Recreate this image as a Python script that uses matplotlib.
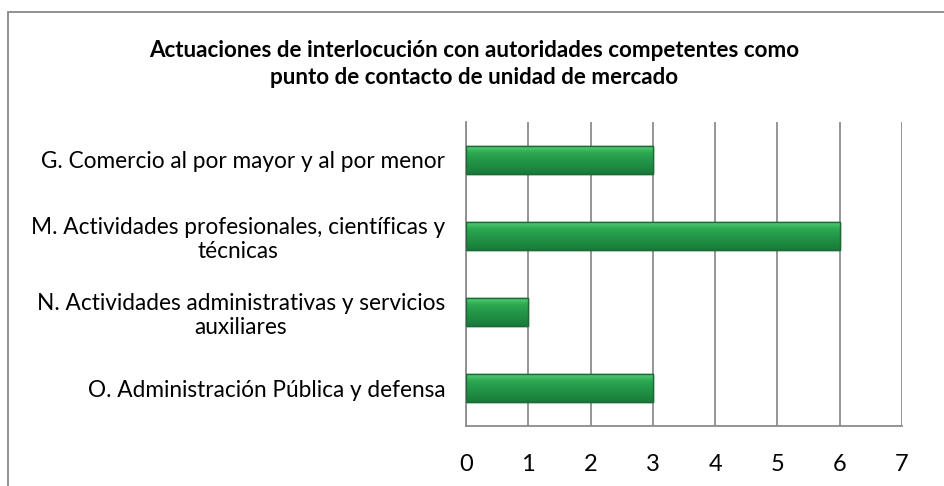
import numpy as np
import matplotlib.pyplot as plt
from matplotlib.patches import Rectangle
from matplotlib.colors import LinearSegmentedColormap

plt.rcParams['font.family'] = ['Lato', 'DejaVu Sans']

categories = [
    "G. Comercio al por mayor y al por menor",
    "M. Actividades profesionales, científicas y\ntécnicas",
    "N. Actividades administrativas y servicios\nauxiliares",
    "O. Administración Pública y defensa",
]
values = [3, 6, 1, 3]
xticks = [0, 1, 2, 3, 4, 5, 6, 7]
title = "Actuaciones de interlocución con autoridades competentes como\npunto de contacto de unidad de mercado"

fig = plt.figure(figsize=(9.45, 4.86), dpi=100)
ax = fig.add_axes([466 / 945, 1 - 426 / 486, 436 / 945, 304 / 486])

# outer chart border
fig.patches.append(Rectangle((8 / 945, -0.1), 1.2, 1 - 12 / 486 + 0.1,
                             transform=fig.transFigure, fill=False,
                             edgecolor='#888888', lw=1.3))

ypos = np.arange(len(categories))
bars = ax.barh(ypos, values, height=0.38, color='#27a049',
               edgecolor='#1d6a34', lw=1.0, zorder=3)

# vertical gradient on each bar to mimic the bevel look
cmap = LinearSegmentedColormap.from_list(
    'bev', ['#5ad47d', '#2eaa52', '#24984a', '#1f8a41', '#1a7a3a'])
grad = np.linspace(0, 1, 64).reshape(-1, 1)
for b in bars:
    x0, y0 = b.get_x(), b.get_y()
    w, h = b.get_width(), b.get_height()
    im = ax.imshow(grad, extent=[x0, x0 + w, y0 + h, y0], cmap=cmap,
                   aspect='auto', zorder=3.5, origin='upper')
    im.set_clip_path(b)
    ax.add_patch(Rectangle((x0, y0), w, h, fill=False,
                           edgecolor='#1d6a34', lw=1.0, zorder=4))

ax.set_xlim(0, 7)
ax.set_ylim(len(categories) - 0.5, -0.5)
ax.set_aspect('auto')
ax.set_xticks(xticks)
ax.set_xticklabels([str(t) for t in xticks], fontsize=17)
ax.set_yticks(ypos)
ax.set_yticklabels(categories, fontsize=16.3, multialignment='center',
                   linespacing=1.15)
ax.tick_params(axis='both', length=0, colors='#000000')
ax.tick_params(axis='x', pad=20)
ax.tick_params(axis='y', pad=15)

ax.grid(axis='x', color='#8c8c8c', lw=1.3, zorder=0)
ax.set_axisbelow(True)
for side in ['top', 'right']:
    ax.spines[side].set_visible(False)
for side in ['left', 'bottom']:
    ax.spines[side].set_color('#8c8c8c')
    ax.spines[side].set_linewidth(1.3)

fig.text(474 / 945, 1 - 64 / 486, title, ha='center', va='center',
         fontsize=16.1, fontweight='bold', linespacing=1.3)

fig.savefig('out.png', dpi=100)
